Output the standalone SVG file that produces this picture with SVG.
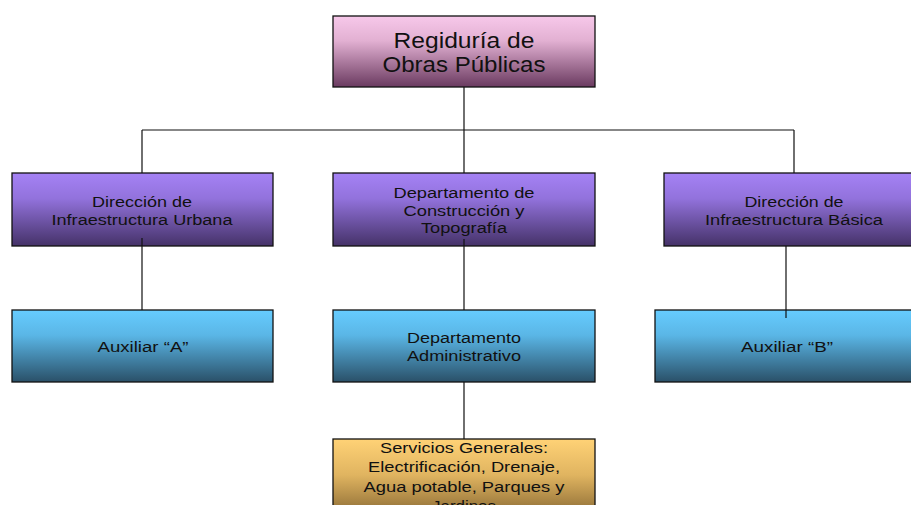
<svg xmlns="http://www.w3.org/2000/svg" width="911" height="505" viewBox="0 0 911 505">
<defs>
<linearGradient id="gPink" x1="0" y1="0" x2="0" y2="1"><stop offset="0" stop-color="#f7c8ea"/><stop offset="0.35" stop-color="#e2b0d2"/><stop offset="1" stop-color="#6a3a60"/></linearGradient>
<linearGradient id="gPurple" x1="0" y1="0" x2="0" y2="1"><stop offset="0" stop-color="#a582f5"/><stop offset="0.35" stop-color="#9272dc"/><stop offset="1" stop-color="#453268"/></linearGradient>
<linearGradient id="gBlue" x1="0" y1="0" x2="0" y2="1"><stop offset="0" stop-color="#66ccff"/><stop offset="0.35" stop-color="#5ab6e6"/><stop offset="1" stop-color="#2a5068"/></linearGradient>
<linearGradient id="gOrange" x1="0" y1="0" x2="0" y2="1"><stop offset="0" stop-color="#ffd276"/><stop offset="0.4" stop-color="#e0b460"/><stop offset="1" stop-color="#6e5226"/></linearGradient>
</defs>
<style>
.box{stroke:#111;stroke-width:1.3}
.t{font-family:"Liberation Sans",Arial,sans-serif;fill:#111;text-anchor:middle}
.s{font-size:15.5px}
.b{font-size:22px}
.ln{stroke:#111;stroke-width:1.2;fill:none}
</style>
<g id="n1"><rect class="box" x="333" y="16" width="262" height="71" fill="url(#gPink)"/>
<text class="t b" x="464" y="48" textLength="141" lengthAdjust="spacingAndGlyphs">Regiduría de</text><text class="t b" x="464" y="72" textLength="163" lengthAdjust="spacingAndGlyphs">Obras Públicas</text></g>
<g id="n2"><rect class="box" x="12" y="173" width="261" height="73" fill="url(#gPurple)"/>
<text class="t s" x="142" y="207" textLength="100" lengthAdjust="spacingAndGlyphs">Dirección de</text><text class="t s" x="142" y="225" textLength="181" lengthAdjust="spacingAndGlyphs">Infraestructura Urbana</text></g>
<g id="n3"><rect class="box" x="333" y="173" width="262" height="73" fill="url(#gPurple)"/>
<text class="t s" x="464" y="198" textLength="141" lengthAdjust="spacingAndGlyphs">Departamento de</text><text class="t s" x="464" y="215.5" textLength="121" lengthAdjust="spacingAndGlyphs">Construcción y</text><text class="t s" x="464" y="233" textLength="86" lengthAdjust="spacingAndGlyphs">Topografía</text></g>
<g id="n4"><rect class="box" x="664" y="173" width="262" height="73" fill="url(#gPurple)"/>
<text class="t s" x="794" y="207" textLength="99" lengthAdjust="spacingAndGlyphs">Dirección de</text><text class="t s" x="794" y="225" textLength="178" lengthAdjust="spacingAndGlyphs">Infraestructura Básica</text></g>
<g id="n5"><rect class="box" x="12" y="310" width="261" height="72" fill="url(#gBlue)"/>
<text class="t s" x="143" y="352" textLength="91" lengthAdjust="spacingAndGlyphs">Auxiliar “A”</text></g>
<g id="n6"><rect class="box" x="333" y="310" width="262" height="72" fill="url(#gBlue)"/>
<text class="t s" x="464" y="343" textLength="114" lengthAdjust="spacingAndGlyphs">Departamento</text><text class="t s" x="464" y="361" textLength="114" lengthAdjust="spacingAndGlyphs">Administrativo</text></g>
<g id="n7"><rect class="box" x="655" y="310" width="262" height="72" fill="url(#gBlue)"/>
<text class="t s" x="787" y="352" textLength="92" lengthAdjust="spacingAndGlyphs">Auxiliar “B”</text></g>
<g id="n8"><rect class="box" x="333" y="439" width="262" height="90" fill="url(#gOrange)"/>
<text class="t s" x="464" y="453" textLength="168" lengthAdjust="spacingAndGlyphs">Servicios Generales:</text><text class="t s" x="464" y="472" textLength="192" lengthAdjust="spacingAndGlyphs">Electrificación, Drenaje,</text><text class="t s" x="464" y="492" textLength="201" lengthAdjust="spacingAndGlyphs">Agua potable, Parques y</text><text class="t s" x="464" y="511" textLength="64" lengthAdjust="spacingAndGlyphs">Jardines</text></g>
<g id="connectors">
<path class="ln" d="M464 87V130M142 130H794M142 130V173M464 130V173M794 130V173"/>
<path class="ln" d="M142 238V310M464 239V310M786 246V318M464 382V439"/>
</g>
</svg>
